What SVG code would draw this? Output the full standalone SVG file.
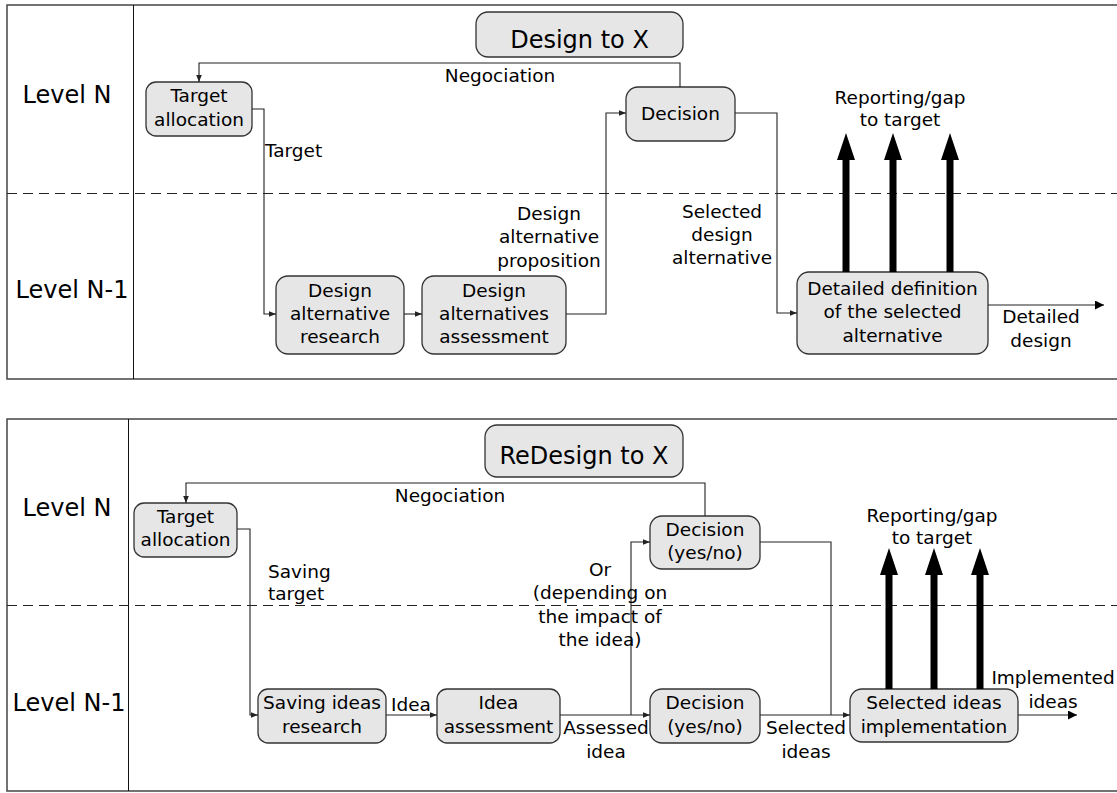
<svg xmlns="http://www.w3.org/2000/svg" width="1117" height="793" viewBox="0 0 1117 793">
<style>
text{font-family:"DejaVu Sans","Liberation Sans",sans-serif;fill:#000;font-size:18.5px}
.big{font-size:24px}
.m{text-anchor:middle}
.box{fill:#e6e6e6;stroke:#333;stroke-width:1.3}
.frame{fill:none;stroke:#444;stroke-width:1.5}
.div{stroke:#111;stroke-width:1}
.dash{stroke:#222;stroke-width:1;stroke-dasharray:10 6}
.c{fill:none;stroke:#222;stroke-width:1.1}
.thick{fill:#000}
</style>
<defs>
<marker id="a" viewBox="0 0 10 10" refX="10" refY="5" markerWidth="8" markerHeight="7" orient="auto" markerUnits="userSpaceOnUse"><path d="M0,1 L10,5 L0,9z" fill="#222"/></marker>
<marker id="b" viewBox="0 0 10 10" refX="10" refY="5" markerWidth="14" markerHeight="9" orient="auto" markerUnits="userSpaceOnUse"><path d="M0,0 L10,5 L0,10z" fill="#000"/></marker>
</defs>

<!-- Top panel frame -->
<g id="panel1">
<path class="frame" d="M1117,5 H7 V379 H1117"/>
<line class="div" x1="133.5" y1="5" x2="133.5" y2="379"/>
<line class="dash" x1="7" y1="193.5" x2="1117" y2="193.5"/>
<text class="big m" x="67" y="103">Level N</text>
<text class="big m" x="72" y="298">Level N-1</text>
</g>

<!-- Bottom panel frame -->
<g id="panel2">
<path class="frame" d="M1117,419 H7 V791 H1117"/>
<line class="div" x1="128.5" y1="419" x2="128.5" y2="791"/>
<line class="dash" x1="7" y1="605.5" x2="1117" y2="605.5"/>
<text class="big m" x="67" y="516">Level N</text>
<text class="big m" x="69" y="711">Level N-1</text>
</g>

<!-- Top panel nodes -->
<g id="title1"><rect class="box" x="476" y="12" width="207" height="45" rx="12"/><text class="big m" x="579.5" y="48">Design to X</text></g>
<g id="ta1"><rect class="box" x="146" y="82" width="106" height="54" rx="10"/><text class="m" x="199" y="102">Target</text><text class="m" x="199" y="126">allocation</text></g>
<g id="dar"><rect class="box" x="276" y="276" width="128" height="78" rx="12"/><text class="m" x="340" y="297">Design</text><text class="m" x="340" y="320">alternative</text><text class="m" x="340" y="343">research</text></g>
<g id="daa"><rect class="box" x="422" y="276" width="144" height="78" rx="12"/><text class="m" x="494" y="297">Design</text><text class="m" x="494" y="320">alternatives</text><text class="m" x="494" y="343">assessment</text></g>
<g id="dec1"><rect class="box" x="626" y="87" width="109" height="54" rx="12"/><text class="m" x="680.5" y="120">Decision</text></g>
<g id="det"><rect class="box" x="797" y="272" width="191" height="82" rx="12"/><text class="m" x="892.5" y="295">Detailed definition</text><text class="m" x="892.5" y="318">of the selected</text><text class="m" x="892.5" y="342">alternative</text></g>

<!-- Bottom panel nodes -->
<g id="title2"><rect class="box" x="485" y="425" width="198" height="52" rx="12"/><text class="big m" x="584" y="464">ReDesign to X</text></g>
<g id="ta2"><rect class="box" x="134" y="503" width="103" height="54" rx="10"/><text class="m" x="185.5" y="523">Target</text><text class="m" x="185.5" y="546">allocation</text></g>
<g id="sir"><rect class="box" x="258" y="689" width="128" height="54" rx="10"/><text class="m" x="322" y="709">Saving ideas</text><text class="m" x="322" y="733">research</text></g>
<g id="ia"><rect class="box" x="437" y="689" width="123" height="54" rx="10"/><text class="m" x="498.5" y="709">Idea</text><text class="m" x="498.5" y="733">assessment</text></g>
<g id="dec2a"><rect class="box" x="650" y="516" width="110" height="53" rx="12"/><text class="m" x="705" y="536">Decision</text><text class="m" x="705" y="559">(yes/no)</text></g>
<g id="dec2b"><rect class="box" x="650" y="689" width="110" height="54" rx="12"/><text class="m" x="705" y="709">Decision</text><text class="m" x="705" y="733">(yes/no)</text></g>
<g id="sii"><rect class="box" x="850" y="689" width="168" height="53" rx="12"/><text class="m" x="934" y="709">Selected ideas</text><text class="m" x="934" y="733">implementation</text></g>

<!-- Connectors -->
<g id="connectors">
<path class="c" d="M680,87 V63 H199 V82" marker-end="url(#a)"/>
<path class="c" d="M252,109 H264 V314 H276" marker-end="url(#a)"/>
<path class="c" d="M404,314 H422" marker-end="url(#a)"/>
<path class="c" d="M566,314 H606 V113 H626" marker-end="url(#a)"/>
<path class="c" d="M735,113 H777 V313 H797" marker-end="url(#a)"/>
<path class="c" d="M988,305 H1104" marker-end="url(#b)"/>
<path class="thick" d="M846,133 L855,160 L849.5,160 L849.5,272 L842.5,272 L842.5,160 L837,160 Z"/>
<path class="thick" d="M893,133 L902,160 L896.5,160 L896.5,272 L889.5,272 L889.5,160 L884,160 Z"/>
<path class="thick" d="M950,133 L959,160 L953.5,160 L953.5,272 L946.5,272 L946.5,160 L941,160 Z"/>

<path class="c" d="M705,516 V483 H186 V503" marker-end="url(#a)"/>
<path class="c" d="M237,529 H250 V715 H258" marker-end="url(#a)"/>
<path class="c" d="M386,715 H437" marker-end="url(#a)"/>
<path class="c" d="M560,715 H650" marker-end="url(#a)"/>
<path class="c" d="M631,715 V542 H650" marker-end="url(#a)"/>
<path class="c" d="M760,542 H831 V715"/>
<path class="c" d="M760,715 H850" marker-end="url(#a)"/>
<path class="c" d="M1018,715 H1077" marker-end="url(#b)"/>
<path class="thick" d="M889,548 L898,575 L892.5,575 L892.5,689 L885.5,689 L885.5,575 L880,575 Z"/>
<path class="thick" d="M934,548 L943,575 L937.5,575 L937.5,689 L930.5,689 L930.5,575 L925,575 Z"/>
<path class="thick" d="M980,548 L989,575 L983.5,575 L983.5,689 L976.5,689 L976.5,575 L971,575 Z"/>
</g>

<!-- Connector labels -->
<g id="labels">
<text class="m" x="500" y="82">Negociation</text>
<text x="265" y="157">Target</text>
<text class="m" x="549" y="220">Design</text>
<text class="m" x="549" y="243">alternative</text>
<text class="m" x="549" y="267">proposition</text>
<text class="m" x="722" y="218">Selected</text>
<text class="m" x="722" y="241">design</text>
<text class="m" x="722" y="264">alternative</text>
<text class="m" x="900" y="104">Reporting/gap</text>
<text class="m" x="900" y="126">to target</text>
<text class="m" x="1041" y="323">Detailed</text>
<text class="m" x="1041" y="347">design</text>

<text class="m" x="450" y="502">Negociation</text>
<text x="268" y="578">Saving</text>
<text x="268" y="600">target</text>
<text x="391" y="711">Idea</text>
<text class="m" x="600" y="576">Or</text>
<text class="m" x="600" y="599">(depending on</text>
<text class="m" x="600" y="623">the impact of</text>
<text class="m" x="600" y="646">the idea)</text>
<text class="m" x="606" y="734">Assessed</text>
<text class="m" x="606" y="758">idea</text>
<text class="m" x="806" y="734">Selected</text>
<text class="m" x="806" y="758">ideas</text>
<text class="m" x="932" y="522">Reporting/gap</text>
<text class="m" x="932" y="544">to target</text>
<text class="m" x="1053" y="684">Implemented</text>
<text class="m" x="1053" y="708">ideas</text>
</g>
</svg>
